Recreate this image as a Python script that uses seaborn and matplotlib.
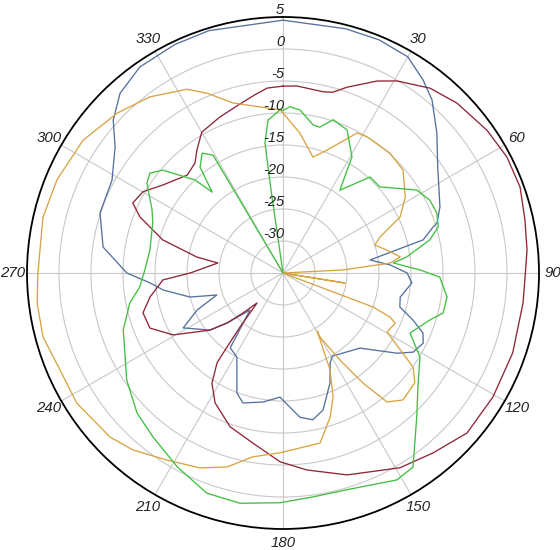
import numpy as np
import pandas as pd
import matplotlib
matplotlib.use("Agg")
import matplotlib.pyplot as plt
from matplotlib.transforms import offset_copy
import seaborn as sns

# --- pattern data: angle (deg, clockwise from north) and gain (dB) ---
red_ang = [0, 4.3, 12.5, 15.4, 19.0, 26.1, 30.7, 38.5, 45.7, 55.0, 62.6, 70.1, 77.6, 84.6,
           91.7, 97.1, 109.2, 120.6, 131.0, 140.2, 149.0, 162.4, 173.1, 180.9, 190.0, 199.0,
           207.6, 212.8, 216.3, 217.1, 218.5, 220.9, 225.0, 228.2, 232.0, 240.6, 247.5, 254.1,
           259.8, 266.7, 270.0, 278.7, 280.5, 285.4, 291.4, 295.0, 300.1, 306.3, 315.6, 321.3,
           325.0, 330.0, 338.0, 345.7, 351.1, 355.1]
red_db = [-5.8, -5.7, -6.0, -5.7, -4.3, -1.6, -0.1, 1.9, 3.0, 3.9, 4.4, 4.4, 3.7, 3.3,
          2.8, 2.8, 3.0, 3.1, 3.1, 1.6, 0.5, -1.9, -4.0, -5.5, -8.0, -9.6,
          -12.1, -14.5, -17.6, -20.5, -24.2, -28.8, -26.2, -23.3, -20.5, -15.3, -12.5, -12.25,
          -13.9, -16.2, -20.5, -24.7, -21.3, -15.5, -11.0, -9.1, -9.7, -11.75, -13.6, -13.0,
          -11.55, -9.6, -8.7, -7.75, -6.8, -6.0]

blue_ang = [0, 14.4, 22.4, 30.0, 36.0, 40.7, 47.7, 55.6, 67.2, 72.0, 73.0, 76.7, 81.5, 85.7,
            90.0, 94.4, 101.6, 106.2, 109.9, 113.2, 116.6, 121.3, 125.1, 134.3, 149.4, 152.4,
            156.9, 163.7, 168.5, 173.3, 181.4, 188.8, 197.1, 201.0, 208.7, 215.2, 221.7, 228.2,
            232.0, 241.2, 246.7, 251.6, 255.5, 261.9, 265.7, 270.0, 278.2, 288.2, 298.5, 306.9,
            312.0, 317.8, 325.2, 334.7, 343.0]
blue_db = [4.5, 4.4, 4.4, 4.0, 2.25, 0.7, -2.5, -5.7, -8.4, -9.7, -10.5, -12.5, -21.25, -18.2,
           -15.6, -14.8, -16.3, -16.0, -13.4, -11.2, -10.5, -11.2, -13.2, -18.2, -19.9, -19.1,
           -16.3, -12.7, -11.6, -12.3, -15.6, -14.6, -13.75, -14.9, -20.0, -20.7, -27.25, -23.3,
           -20.5, -17.2, -20.4, -24.1, -20.0, -16.1, -14.2, -10.6, -6.6, -4.9, -4.6, -2.2,
           0.7, 2.9, 4.2, 4.5, 4.6]

gold_ang = [0, 6.9, 14.5, 19.7, 27.9, 31.7, 41.7, 49.4, 58.1, 64.4, 69.6, 73.1, 77.5, 82.2,
            84.7, 87.1, 89.5, 99.2, 103.0, 110.7, 112.4, 114.1, 119.6, 121.3, 125.9, 129.8,
            136.6, 141.1, 144.0, 146.8, 150.0, 149.5, 154.1, 158.0, 161.9, 167.7, 181.0, 189.3,
            196.1, 203.1, 211.8, 220.3, 226.5, 237.7, 246.5, 255.1, 263.0, 270.0, 283.1, 292.4,
            303.6, 313.9, 322.9, 332.4, 337.1, 343.6, 352.1, 359.0]
gold_db = [-10.0, -13.0, -16.3, -14.6, -10.25, -10.0, -9.9, -10.3, -12.5, -14.7, -18.8, -20.0, -18.4, -16.5,
           -18.2, -25.6, -35.0, -25.2, -35.0, -20.0, -16.9, -15.8, -16.3, -14.9, -9.9, -8.2,
           -7.7, -9.1, -13.75, -18.75, -23.4, -24.5, -18.2, -14.1, -11.3, -7.8, -6.9, -5.9,
           -3.45, -1.9, -0.6, 1.25, 2.25, 3.1, 3.0, 3.8, 3.7, 3.3, 3.5, 3.2,
           2.5, 1.0, -0.5, -2.6, -4.5, -7.3, -8.8, -9.5]

green_ang = [0, 2.4, 6.0, 11.5, 14.2, 18.1, 24.1, 30.7, 34.5, 42.2, 48.4, 51.5, 58.2, 63.6,
             68.7, 73.5, 77.3, 82.6, 84.8, 88.7, 91.5, 98.3, 104.0, 107.7, 115.3, 121.5,
             130.2, 137.1, 142.2, 146.2, 151.2, 163.6, 172.4, 180.7, 190.6, 199.1, 208.6, 218.4,
             226.2, 235.6, 243.1, 250.4, 258.9, 264.4, 271.2, 279.8, 291.0, 295.7, 303.5, 306.9,
             310.6, 316.6, 318.8, 321.9, 326.0, 329.3, 331.5, 351.5, 351.8, 352.1, 354.4, 359.0]
green_db = [-9.6, -9.0, -9.4, -11.4, -11.5, -9.8, -10.5, -13.9, -19.3, -14.75, -14.75, -13.6, -10.4, -9.4,
            -9.2, -9.7, -11.5, -15.5, -17.7, -13.6, -10.5, -9.1, -9.2, -10.9, -13.05, -9.9,
            -7.4, -4.3, -1.4, 1.5, 1.9, 0.3, 0.3, 0.9, 1.6, 1.4, -0.5, -2.3,
            -3.4, -5.4, -7.3, -8.5, -10.6, -12.5, -13.4, -13.9, -13.2, -12.3, -9.5, -9.0,
            -10.3, -15.0, -18.2, -14.0, -12.4, -13.6, -35.0, -35.0, -21.4, -14.5, -11.0, -9.5]

ring_values = [5, 0, -5, -10, -15, -20, -25, -30]
angle_ticks = list(range(30, 360, 30))

series = [("blue", blue_ang, blue_db), ("red", red_ang, red_db),
          ("gold", gold_ang, gold_db), ("green", green_ang, green_db)]
palette = {"blue": "#55719d", "red": "#8e2638", "gold": "#d8a443", "green": "#42bf42"}

frames = []
for name, ang, db in series:
    a = list(ang) + [ang[0] + 360]
    d = list(db) + [db[0]]
    frames.append(pd.DataFrame({"theta": np.deg2rad(a), "gain": d, "series": name}))
df = pd.concat(frames, ignore_index=True)

sns.set_style("white")
plt.rcParams["font.family"] = ["Liberation Sans", "DejaVu Sans"]

fig = plt.figure(figsize=(5.6, 5.5), dpi=100)
ax = fig.add_axes([27 / 560, 21 / 550, 512 / 560, 512 / 550], projection="polar")
ax.set_theta_zero_location("N")
ax.set_theta_direction(-1)

sns.lineplot(data=df, x="theta", y="gain", hue="series", palette=palette,
             sort=False, estimator=None, linewidth=0.95, legend=False, ax=ax)

ax.set_rlim(-35, 5)
ax.set_yticks([-30, -25, -20, -15, -10, -5, 0])
ax.set_yticklabels([])
ax.set_xticks(np.deg2rad(range(0, 360, 30)))
ax.set_xticklabels([])
ax.grid(True, color="#c8c8c8", linewidth=0.8)
ax.spines["polar"].set_color("black")
ax.spines["polar"].set_linewidth(1.3)
ax.set_xlabel("")
ax.set_ylabel("")

for a in angle_ticks:
    ax.text(np.deg2rad(a), 7.2, str(a), ha="center", va="center",
            fontsize=10.8, fontstyle="italic", color="#222222")

rlab_tr = offset_copy(ax.transData, fig=fig, x=1, y=7, units="dots")
for v in ring_values:
    ax.text(0, v, str(v), transform=rlab_tr, ha="right", va="center",
            fontsize=10.5, fontstyle="italic", color="#222222")

fig.savefig("out.png", dpi=100)
